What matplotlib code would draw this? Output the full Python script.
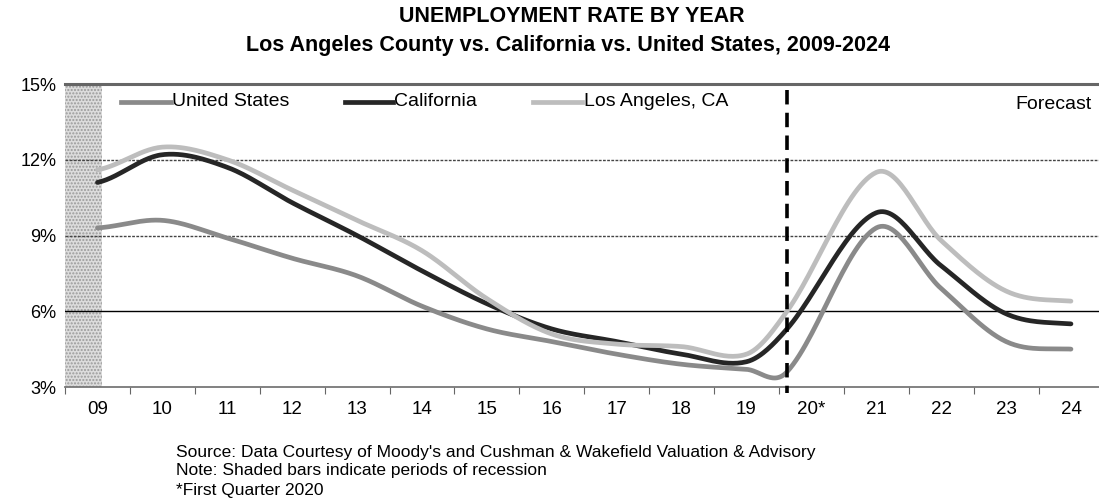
import numpy as np
import matplotlib
matplotlib.use("Agg")
import matplotlib.pyplot as plt

plt.rcParams['font.family'] = ['Liberation Sans', 'DejaVu Sans']

years = ['09', '10', '11', '12', '13', '14', '15', '16', '17', '18', '19', '20*', '21', '22', '23', '24']
us = [9.3, 9.6, 8.9, 8.1, 7.4, 6.2, 5.3, 4.8, 4.3, 3.9, 3.7, 3.6, 9.3, 6.9, 4.8, 4.5]
ca = [11.1, 12.2, 11.7, 10.3, 9.0, 7.6, 6.3, 5.3, 4.8, 4.3, 4.0, 5.3, 9.9, 7.8, 5.9, 5.5]
la = [11.6, 12.5, 12.0, 10.8, 9.6, 8.4, 6.5, 5.1, 4.7, 4.6, 4.3, 6.0, 11.5, 8.8, 6.8, 6.4]

names = ['United States', 'California', 'Los Angeles, CA']
colors = ['#8a8a8a', '#262626', '#bdbdbd']


def smooth(x, y, n=30):
    # cardinal (Catmull-Rom like) smoothing, works with uneven spacing
    x = np.asarray(x, float)
    y = np.asarray(y, float)
    m = np.zeros_like(y)
    m[1:-1] = (y[2:] - y[:-2]) / (x[2:] - x[:-2])
    m[0] = (y[1] - y[0]) / (x[1] - x[0]) / 2
    m[-1] = (y[-1] - y[-2]) / (x[-1] - x[-2]) / 2
    t = np.linspace(0, 1, n)
    xs, ys = [], []
    for i in range(len(x) - 1):
        h = x[i + 1] - x[i]
        c1 = y[i] + m[i] * h / 3
        c2 = y[i + 1] - m[i + 1] * h / 3
        xs.extend(x[i] + h * t)
        ys.extend((1 - t) ** 3 * y[i] + 3 * (1 - t) ** 2 * t * c1
                  + 3 * (1 - t) * t ** 2 * c2 + t ** 3 * y[i + 1])
    return xs, ys


fig = plt.figure(figsize=(10.99, 5.04), dpi=100)
ax = fig.add_axes([65 / 1099, 117 / 504, 1034 / 1099, 303 / 504])

# category centres; the Q1 2020 point sits at the start of its year
xpos = np.arange(len(years)) + 0.5
q1 = years.index('20*')
xpos_pts = xpos.copy()
xpos_pts[q1] = q1 + 0.125

# recession shading
ax.axvspan(0, 0.57, facecolor='#dcdcdc', hatch='.....', edgecolor='#9a9a9a', linewidth=0, zorder=0)

# grid lines
ax.axhline(6, color='black', lw=1.0, zorder=1)
ax.axhline(9, color='#444444', lw=1.0, ls=(0, (2, 1)), zorder=1)
ax.axhline(12, color='#444444', lw=1.0, ls=(0, (2, 1)), zorder=1)
ax.axhline(15, color='#666666', lw=2.2, zorder=1, clip_on=False)

for vals, c in zip([us, ca, la], colors):
    sx, sy = smooth(xpos_pts, vals)
    ax.plot(sx, sy, color=c, lw=3.4, solid_capstyle='round', zorder=3)

# forecast divider
ax.plot([xpos_pts[q1]] * 2, [14.75, 2.75], color='black', lw=2.6, ls=(0, (4, 2.3)), clip_on=False, zorder=4)

ax.set_xlim(0, 1034 / 64.9)
ax.set_ylim(3, 15)
ax.set_yticks([3, 6, 9, 12, 15])
ax.set_yticklabels(['3%', '6%', '9%', '12%', '15%'], fontsize=13)
ax.tick_params(axis='y', length=0, pad=6)
ax.set_xticks(np.arange(0, 16))
ax.set_xticklabels([])
ax.set_xticks(xpos, minor=True)
ax.set_xticklabels(years, minor=True, fontsize=13.5)
ax.tick_params(axis='x', which='major', length=5, color='#666666', direction='out')
ax.tick_params(axis='x', which='minor', length=0, pad=10)

for s in ['top', 'right', 'left']:
    ax.spines[s].set_visible(False)
ax.spines['bottom'].set_color('#777777')
ax.spines['bottom'].set_linewidth(1.3)

# legend drawn as lines + text
leg_x = [(0.86, 1.63), (4.31, 5.05), (7.21, 7.97)]
for (x0, x1), name, c in zip(leg_x, names, colors):
    ax.plot([x0, x1], [14.3, 14.3], color=c, lw=3.4, zorder=5)
    ax.text(x1 + 0.02, 14.3, name, fontsize=14, va='center', ha='left')

ax.text(15.82, 14.2, 'Forecast', fontsize=14, ha='right', va='center')

fig.text(572 / 1099, 1 - 17 / 504, 'UNEMPLOYMENT RATE BY YEAR', fontsize=15.5,
         fontweight='bold', ha='center', va='center')
fig.text(568 / 1099, 1 - 45 / 504, 'Los Angeles County vs. California vs. United States, 2009-2024',
         fontsize=15.5, fontweight='bold', ha='center', va='center')

notes = ['Source: Data Courtesy of Moody\'s and Cushman & Wakefield Valuation & Advisory',
         'Note: Shaded bars indicate periods of recession',
         '*First Quarter 2020']
for i, line in enumerate(notes):
    fig.text(176 / 1099, 1 - (452 + 19 * i) / 504, line, fontsize=12.5, ha='left', va='center')

fig.savefig('out.png', dpi=100)
